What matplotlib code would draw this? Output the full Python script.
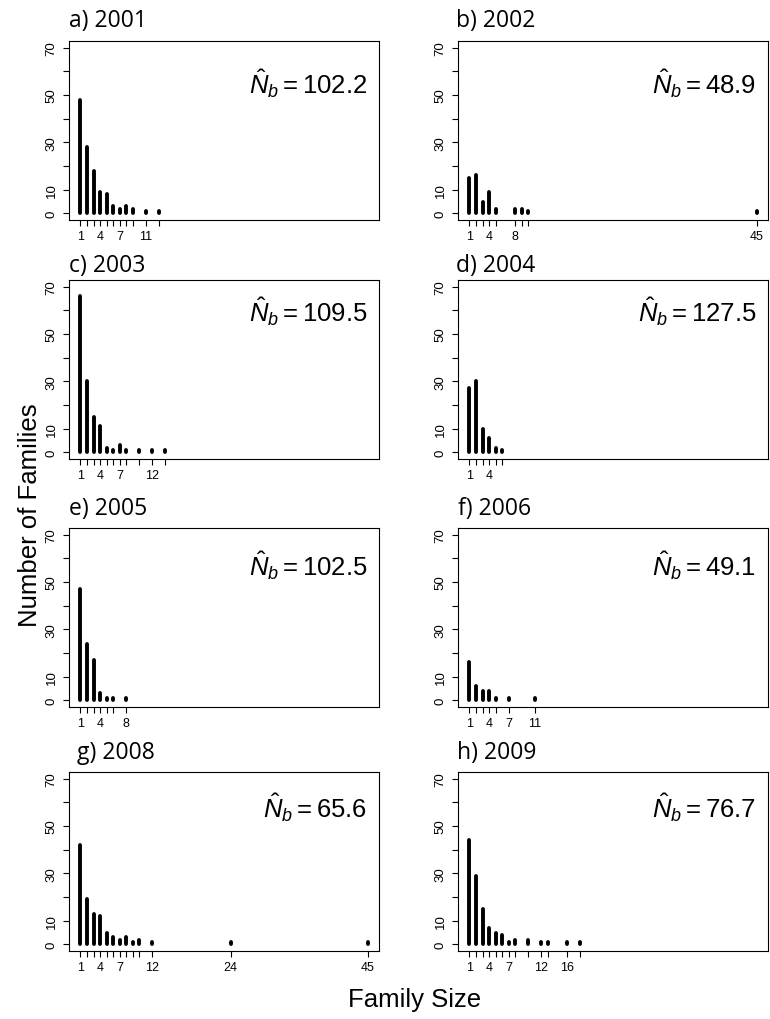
import matplotlib
matplotlib.use("Agg")
import matplotlib.pyplot as plt

plt.rcParams['font.family'] = ['Liberation Sans', 'DejaVu Sans']
plt.rcParams['mathtext.fontset'] = 'custom'
plt.rcParams['mathtext.rm'] = 'Liberation Sans'
plt.rcParams['mathtext.it'] = 'Liberation Sans:italic'

# panel titles and estimates
titles = ["a) 2001", "b) 2002", "c) 2003", "d) 2004",
          "e) 2005", "f) 2006", "g) 2008", "h) 2009"]
n_hat = [102.2, 48.9, 109.5, 127.5, 102.5, 49.1, 65.6, 76.7]

# family size -> number of families
sizes_a = [1, 2, 3, 4, 5, 6, 7, 8, 9, 11, 13]
counts_a = [48, 28, 18, 9, 8, 3, 2, 3, 2, 1, 1]
sizes_b = [1, 2, 3, 4, 5, 8, 9, 10, 45]
counts_b = [15, 16, 5, 9, 2, 2, 2, 1, 1]
sizes_c = [1, 2, 3, 4, 5, 6, 7, 8, 10, 12, 14]
counts_c = [66, 30, 15, 11, 2, 1, 3, 1, 1, 1, 1]
sizes_d = [1, 2, 3, 4, 5, 6]
counts_d = [27, 30, 10, 6, 2, 1]
sizes_e = [1, 2, 3, 4, 5, 6, 8]
counts_e = [47, 24, 17, 3, 1, 1, 1]
sizes_f = [1, 2, 3, 4, 5, 7, 11]
counts_f = [16, 6, 4, 4, 1, 1, 1]
sizes_g = [1, 2, 3, 4, 5, 6, 7, 8, 9, 10, 12, 24, 45]
counts_g = [42, 19, 13, 12, 5, 3, 2, 3, 1, 2, 1, 1, 1]
sizes_h = [1, 2, 3, 4, 5, 6, 7, 8, 10, 12, 13, 16, 18]
counts_h = [44, 29, 15, 7, 5, 4, 1, 2, 2, 1, 1, 1, 1]

# tick labels that are actually printed (the rest are blank ticks)
shown_a = [1, 4, 7, 11]
shown_b = [1, 4, 8, 45]
shown_c = [1, 4, 7, 12]
shown_d = [1, 4]
shown_e = [1, 4, 8]
shown_f = [1, 4, 7, 11]
shown_g = [1, 4, 7, 12, 24, 45]
shown_h = [1, 4, 7, 12, 16]

sizes = [sizes_a, sizes_b, sizes_c, sizes_d, sizes_e, sizes_f, sizes_g, sizes_h]
counts = [counts_a, counts_b, counts_c, counts_d, counts_e, counts_f, counts_g, counts_h]
shown = [shown_a, shown_b, shown_c, shown_d, shown_e, shown_f, shown_g, shown_h]

y_ticks = [0, 10, 20, 30, 40, 50, 60, 70]
y_shown = [0, 10, 30, 50, 70]

W, H = 770, 1020
fig = plt.figure(figsize=(W / 100, H / 100), dpi=100)

# layout in pixels
col_left = [69, 458]
ax_w = 310
row_top = [42, 281, 529, 773]
ax_h = 179
title_base = [27, 272, 515, 759]
title_x = [[69, 456], [69, 456], [69, 458], [77, 457]]
nhat_y = [0.71, 0.77, 0.74, 0.75]

for i in range(8):
    r, c = divmod(i, 2)
    x0 = col_left[c]
    y0 = row_top[r]
    ax = fig.add_axes([x0 / W, 1 - (y0 + ax_h) / H, ax_w / W, ax_h / H])
    ax.vlines(sizes[i], 0, counts[i], color='black', linewidth=2.8,
              capstyle='round')
    pad_x = 44 * 0.04
    ax.set_xlim(1 - pad_x, 45 + pad_x)
    ax.set_ylim(-70 * 0.04, 70 * 1.04)

    ax.set_xticks(sizes[i])
    ax.set_xticklabels([str(s) if s in shown[i] else '' for s in sizes[i]],
                       fontsize=9)
    ax.set_yticks(y_ticks)
    ax.set_yticklabels([str(v) if v in y_shown else '' for v in y_ticks],
                       fontsize=9.5, rotation=90, va='center')
    ax.tick_params(axis='both', direction='out', length=4.3, width=0.8)
    ax.tick_params(axis='x', pad=3)
    ax.tick_params(axis='y', pad=4)
    for sp in ax.spines.values():
        sp.set_linewidth(0.8)

    ax.text(0.962, nhat_y[r], r'$\hat{N}_b{=}$' + '%.1f' % n_hat[i],
            transform=ax.transAxes, ha='right', va='baseline', fontsize=18.5)

    fig.text(title_x[r][c] / W, 1 - title_base[r] / H, titles[i],
             fontsize=16.5, family=['Open Sans', 'DejaVu Sans'],
             ha='left', va='baseline')

fig.text(30 / W, 0.495, "Number of Families", rotation=90,
         ha='center', va='center', fontsize=18.5)
fig.text(415 / W, 1 - 1000 / H, "Family Size", ha='center', va='center',
         fontsize=18.5)

fig.savefig("out.png", dpi=100)
